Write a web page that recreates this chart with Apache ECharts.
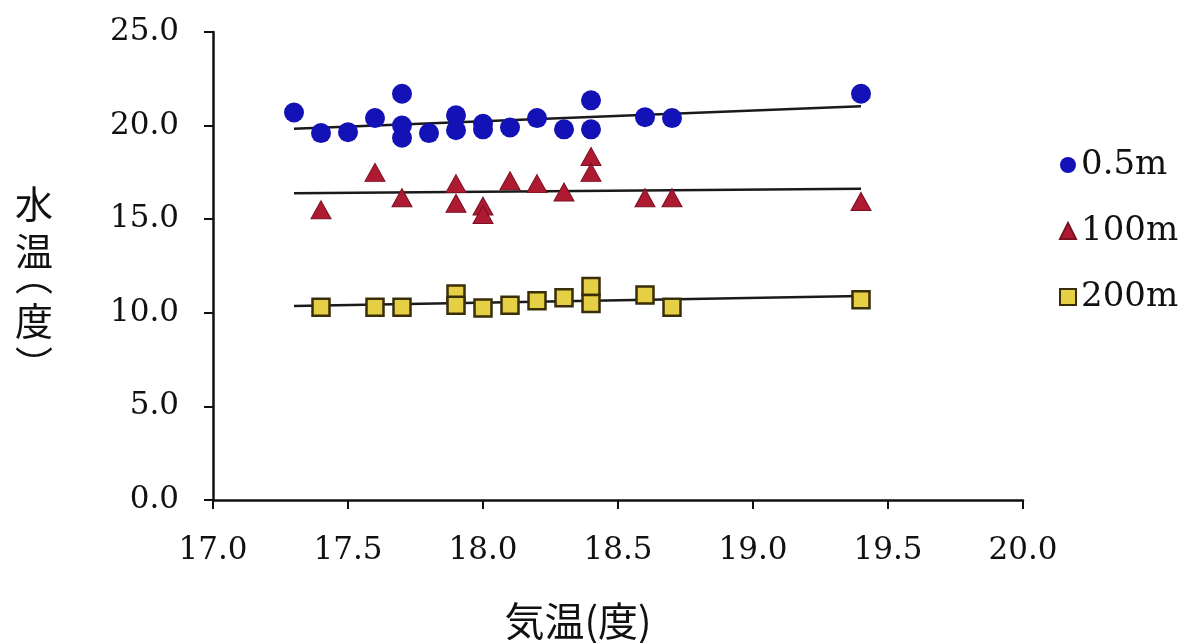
<!DOCTYPE html>
<html>
<head>
<meta charset="utf-8">
<script src="https://cdn.jsdelivr.net/npm/echarts@6/dist/echarts.min.js"></script>
<style>
  html, body { margin: 0; padding: 0; background: #fff; }
  #chart { width: 1189px; height: 643px; }
</style>
</head>
<body>
<div id="chart"></div>
<script>
// Air temperature (x) and water temperature (y) at three depths
const seriesNames = ['0.5m', '100m', '200m'];

const air05   = [17.3, 17.4, 17.5, 17.6, 17.7, 17.7, 17.7, 17.8, 17.9, 17.9, 18.0, 18.0, 18.1, 18.2, 18.3, 18.4, 18.4, 18.6, 18.7, 19.4];
const water05 = [20.7, 19.6, 19.65, 20.4, 21.7, 20.0, 19.35, 19.6, 20.55, 19.75, 20.1, 19.8, 19.9, 20.4, 19.8, 21.35, 19.8, 20.45, 20.4, 21.7];

const air100   = [17.4, 17.6, 17.7, 17.9, 17.9, 18.0, 18.0, 18.1, 18.2, 18.3, 18.4, 18.4, 18.6, 18.7, 19.4];
const water100 = [15.5, 17.5, 16.15, 16.9, 15.85, 15.7, 15.25, 17.05, 16.9, 16.45, 18.35, 17.5, 16.15, 16.15, 15.95];

const air200   = [17.4, 17.6, 17.7, 17.9, 17.9, 18.0, 18.1, 18.2, 18.3, 18.4, 18.4, 18.6, 18.7, 19.4];
const water200 = [10.3, 10.3, 10.3, 11.0, 10.4, 10.25, 10.4, 10.65, 10.8, 11.4, 10.5, 10.95, 10.3, 10.7];

const xTitle = '気温(度)';
const yTitleChars = ['水', '温', '︵', '度', '︶'];

function pairs(xs, ys) { return xs.map((x, i) => [x, ys[i]]); }

// Least-squares line drawn across the common air-temperature range
const allAir = air05.concat(air100, air200);
const spanMin = Math.min(...allAir), spanMax = Math.max(...allAir);
function trend(xs, ys) {
  const n = xs.length;
  const mx = xs.reduce((a, b) => a + b, 0) / n;
  const my = ys.reduce((a, b) => a + b, 0) / n;
  let sxy = 0, sxx = 0;
  for (let i = 0; i < n; i++) { sxy += (xs[i] - mx) * (ys[i] - my); sxx += (xs[i] - mx) ** 2; }
  const b = sxy / sxx, a = my - b * mx;
  return [[spanMin, a + b * spanMin], [spanMax, a + b * spanMax]];
}

const serif = '"DejaVu Serif", "Liberation Serif", serif';
const cjk = '"Noto Sans CJK JP", sans-serif';

const trendStyle = { color: '#1a1a1a', width: 2.5 };
function trendSeries(xs, ys) {
  return { type: 'line', data: trend(xs, ys), showSymbol: false, symbol: 'none',
           lineStyle: trendStyle, silent: true, z: 1, animation: false };
}

// Vertical y-axis title, one glyph per line (vertical-form brackets)
const yTitleY = [204, 251, 276, 321, 365];
const yTitle = yTitleChars.map((ch, i) => ({
  type: 'text', x: 34, y: yTitleY[i],
  style: { text: ch, fontFamily: cjk, fontSize: 38, fill: '#111',
           align: 'center', verticalAlign: 'middle' }
}));

const chart = echarts.init(document.getElementById('chart'));
chart.setOption({
  animation: false,
  backgroundColor: '#fff',
  grid: { left: 213, right: 166, top: 32, bottom: 143 },
  xAxis: {
    type: 'value', min: 17, max: 20, interval: 0.5,
    axisLine: { lineStyle: { color: '#111', width: 2.5 } },
    axisTick: { show: true, length: 9, lineStyle: { color: '#111', width: 2 } },
    splitLine: { show: false },
    axisLabel: { margin: 35, color: '#111', fontFamily: serif, fontSize: 31,
                 formatter: v => v.toFixed(1) }
  },
  yAxis: {
    type: 'value', min: 0, max: 25, interval: 5,
    axisLine: { show: true, lineStyle: { color: '#111', width: 2.5 } },
    axisTick: { show: true, length: 9, lineStyle: { color: '#111', width: 2 } },
    splitLine: { show: false },
    axisLabel: { margin: 34, color: '#111', fontFamily: serif, fontSize: 31,
                 formatter: v => v.toFixed(1) }
  },
  legend: {
    data: [
      { name: seriesNames[0], icon: 'circle' },
      { name: seriesNames[1], icon: 'triangle' },
      { name: seriesNames[2], icon: 'rect' }
    ],
    orient: 'vertical', left: 1054, top: 143, itemGap: 32,
    itemWidth: 16, itemHeight: 16,
    textStyle: { fontFamily: serif, fontSize: 34, color: '#111' }
  },
  graphic: yTitle.concat([{
    type: 'text', x: 578, y: 621,
    style: { text: xTitle, fontFamily: cjk, fontSize: 40, fill: '#111',
             align: 'center', verticalAlign: 'middle' }
  }]),
  series: [
    trendSeries(air05, water05),
    trendSeries(air100, water100),
    trendSeries(air200, water200),
    { name: seriesNames[0], type: 'scatter', data: pairs(air05, water05),
      symbol: 'circle', symbolSize: 20, z: 3,
      itemStyle: { color: '#1212b6', opacity: 1 } },
    { name: seriesNames[1], type: 'scatter', data: pairs(air100, water100),
      symbol: 'triangle', symbolSize: [20, 18], z: 3,
      itemStyle: { color: '#ae1a32', borderColor: '#7a1020', borderWidth: 1, opacity: 1 } },
    { name: seriesNames[2], type: 'scatter', data: pairs(air200, water200),
      symbol: 'rect', symbolSize: 17, z: 3,
      itemStyle: { color: '#e4cf45', borderColor: '#3a2e08', borderWidth: 2.5, opacity: 1 } }
  ]
});
</script>
</body>
</html>
